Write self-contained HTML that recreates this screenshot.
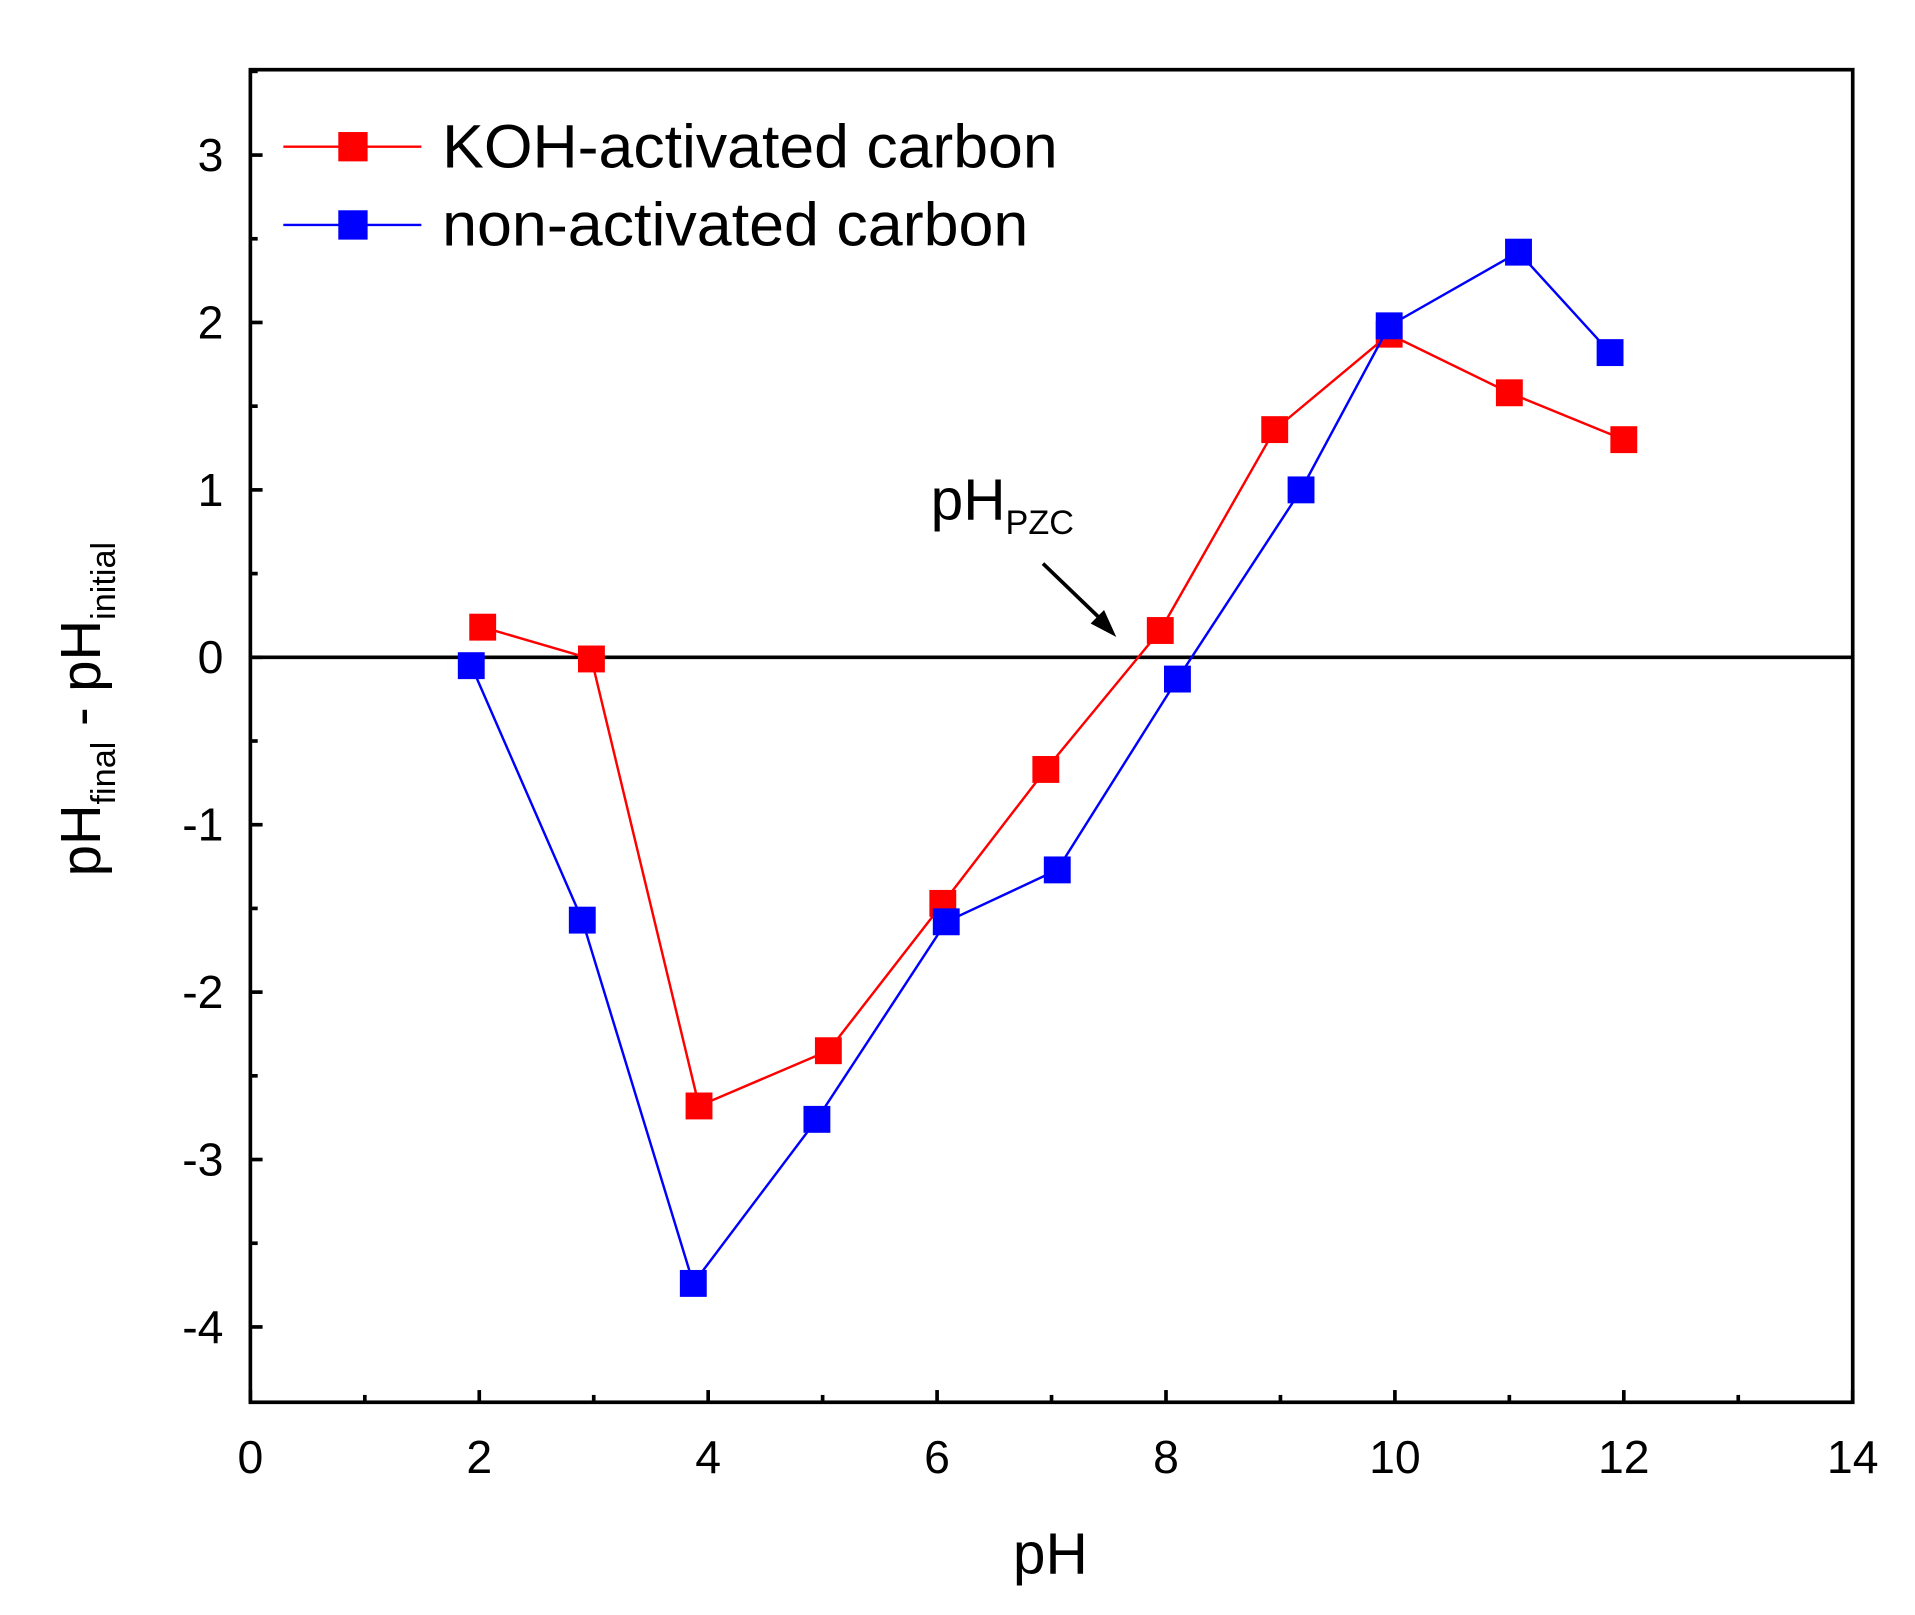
<!DOCTYPE html>
<html><head><meta charset="utf-8"><style>html,body{margin:0;padding:0;background:#fff}svg{display:block}text{font-family:"Liberation Sans",Arial,sans-serif}</style></head>
<body>
<svg id="chart" width="1915" height="1615" viewBox="0 0 1568 1321" preserveAspectRatio="none" xmlns="http://www.w3.org/2000/svg">
<g id="axes"></g>
<g id="series"></g>
<g>
<line x1="232" y1="120" x2="345" y2="120" stroke="#f00" stroke-width="2"/>
<rect x="277" y="108" width="24" height="24" fill="#f00"/>
<text x="362" y="137" font-size="50" textLength="504" lengthAdjust="spacingAndGlyphs">KOH-activated carbon</text>
<line x1="232" y1="184" x2="345" y2="184" stroke="#00f" stroke-width="2"/>
<rect x="277" y="172" width="24" height="24" fill="#00f"/>
<text x="362" y="201" font-size="50" textLength="480" lengthAdjust="spacingAndGlyphs">non-activated carbon</text>
</g>
<g>
<text x="762" y="425" font-size="48">pH<tspan font-size="28" dy="12">PZC</tspan></text>
<line x1="854" y1="461" x2="905" y2="510" stroke="#000" stroke-width="3"/>
<polygon points="914,521 893,510 904,499" fill="#000"/>
</g>
<text x="860" y="1287" font-size="48" text-anchor="middle">pH</text>
<text transform="translate(82,580) rotate(-90)" font-size="46" text-anchor="middle">pH<tspan font-size="28" dy="12">final</tspan><tspan dy="-12"> - pH</tspan><tspan font-size="28" dy="12">initial</tspan></text>
</svg>
<script>
const xTicks=[0,2,4,6,8,10,12,14];
const yTicks=[-4,-3,-2,-1,0,1,2,3];
const kohX=[2.03,2.98,3.92,5.05,6.05,6.95,7.95,8.95,9.95,11.0,12.0];
const kohY=[0.18,-0.01,-2.68,-2.35,-1.47,-0.67,0.16,1.36,1.93,1.58,1.30];
const nonX=[1.93,2.90,3.87,4.95,6.08,7.05,8.10,9.18,9.95,11.08,11.88];
const nonY=[-0.05,-1.57,-3.74,-2.76,-1.58,-1.27,-0.13,1.00,1.98,2.42,1.82];
const L=205,R=1517,T=57,B=1147,xMin=0,xMax=14,yMin=-4.45,yMax=3.51;
const sx=v=>L+(v-xMin)/(xMax-xMin)*(R-L);
const sy=v=>B-(v-yMin)/(yMax-yMin)*(B-T);
const NS="http://www.w3.org/2000/svg";
function mk(t,a,p){const e=document.createElementNS(NS,t);for(const k in a)e.setAttribute(k,a[k]);p.appendChild(e);return e;}
const ax=document.getElementById('axes');
let f=mk('rect',{x:L,y:T,width:R-L,height:B-T,fill:'none',stroke:'#000','stroke-width':3},ax);


let z=mk('line',{x1:L,x2:R,y1:sy(0),y2:sy(0),stroke:'#000','stroke-width':3},ax);


for(let i=0;i<xTicks.length;i++){const v=xTicks[i];
 const t=mk('line',{x1:sx(v),x2:sx(v),y1:B,y2:B-10,stroke:'#000','stroke-width':3},ax);
 
 
 if(i<xTicks.length-1){const m=mk('line',{x1:sx(v+1),x2:sx(v+1),y1:B,y2:B-6,stroke:'#000','stroke-width':3},ax);
 
 }
 const l=mk('text',{x:sx(v),y:B+58,'font-size':38,'text-anchor':'middle'},ax);l.textContent=v;
 
 }
for(const v of yTicks){
 const t=mk('line',{x1:L,x2:L+10,y1:sy(v),y2:sy(v),stroke:'#000','stroke-width':3},ax);
 
 
 const m=mk('line',{x1:L,x2:L+6,y1:sy(v+0.5),y2:sy(v+0.5),stroke:'#000','stroke-width':3},ax);
 
 
 const l=mk('text',{x:L-22,y:sy(v)+13,'font-size':38,'text-anchor':'end'},ax);l.textContent=v;
 
 }
const sg=document.getElementById('series');
function draw(xs,ys,c,n){
 const g=mk('g',{},sg);
 
 
 const pl=mk('polyline',{points:xs.map((x,i)=>sx(x)+','+sy(ys[i])).join(' '),fill:'none',stroke:c,'stroke-width':2},g);
 
 
 xs.forEach((x,i)=>{const r=mk('rect',{x:sx(x)-11,y:sy(ys[i])-11,width:22,height:22,fill:c},g);
 
 });}
draw(kohX,kohY,'#f00','koh');
draw(nonX,nonY,'#00f','non');
</script>
</body></html>
